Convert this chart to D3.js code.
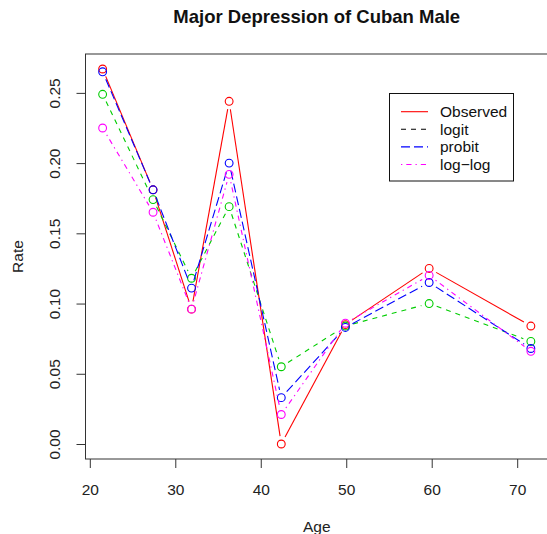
<!DOCTYPE html>
<html>
<head>
<meta charset="utf-8">
<script src="https://cdn.jsdelivr.net/npm/d3@7"></script>
<style>
	body { margin: 0; background: #fff; }
	svg { display: block; font-family: 'Liberation Sans', Arial, sans-serif; }
</style>
</head>
<body>
<div id="chart"></div>
<script>
// values
const ages = [21.5, 27.4, 31.9, 36.3, 42.4, 49.9, 59.7, 71.6];
const observed = [0.267, 0.181, 0.096, 0.244, 0.000, 0.085, 0.125, 0.084];
const logitFit = [0.249, 0.174, 0.118, 0.169, 0.055, 0.084, 0.100, 0.073];
const probitFit = [0.265, 0.181, 0.111, 0.200, 0.033, 0.083, 0.115, 0.068];
const loglogFit = [0.225, 0.165, 0.096, 0.192, 0.021, 0.086, 0.120, 0.066];
const xTicks = [20, 30, 40, 50, 60, 70];
const yTicks = [0, 0.05, 0.10, 0.15, 0.20, 0.25];
const legendLabels = ['Observed', 'logit', 'probit', 'log\u2212log'];

class RatePlot {
	constructor() {
		this.width = 547;
		this.height = 534;
		this._margins = { top: 54, left: 85.5, right: -1, bottom: 75 };
		this.gap = 8;
		this.series = [
			{ values: observed, color: '#ff0000', dash: null },
			{ values: logitFit, color: '#00cd00', dash: '5,5' },
			{ values: probitFit, color: '#0000ff', dash: '9,4' },
			{ values: loglogFit, color: '#ff00ff', dash: '1.3,4,5.2,4' }
		];
		this.legendColors = ['#ff0000', '#000000', '#0000ff', '#ff00ff'];
		this.legendDash = [null, '5,5', '9,4', '1.3,4,5.2,4'];
	}
	render() {
		let me = this;
		let svg = d3.select('#chart').append('svg')
			.attr('width', this.width)
			.attr('height', this.height);

		// R style 4% padding on both axes
		let xExt = d3.extent(ages), yExt = d3.extent(observed);
		let xPad = (xExt[1] - xExt[0]) * 0.04, yPad = (yExt[1] - yExt[0]) * 0.04;
		let left = this._margins.left, right = this.width - this._margins.right;
		let top = this._margins.top, bottom = this.height - this._margins.bottom;
		let xScale = d3.scaleLinear().domain([xExt[0] - xPad, xExt[1] + xPad]).range([left, right]);
		let yScale = d3.scaleLinear().domain([yExt[0] - yPad, yExt[1] + yPad]).range([bottom, top]);

		svg.append('text')
			.attr('x', (left + right) / 2)
			.attr('y', 23)
			.attr('text-anchor', 'middle')
			.style('font-weight', 'bold')
			.style('font-size', '18.5px')
			.style('fill', '#111')
			.text('Major Depression of Cuban Male');

		// axes
		let xAxis = d3.axisBottom(xScale).tickValues(xTicks).tickSize(9).tickFormat(d3.format('d'));
		let gX = svg.append('g')
			.attr('transform', `translate(0,${bottom})`)
			.call(xAxis);
		let yAxis = d3.axisLeft(yScale).tickValues(yTicks).tickSize(9).tickFormat(d3.format('.2f'));
		let gY = svg.append('g')
			.attr('transform', `translate(${left},0)`)
			.call(yAxis);
		[gX, gY].forEach(g => {
			g.select('.domain').remove();
			g.selectAll('line').attr('stroke', '#333');
			g.selectAll('text').style('font-size', '15.5px').style('fill', '#222').attr('font-family', null);
		});
		gX.selectAll('text').attr('y', 35.5).attr('dy', null);
		gY.selectAll('text')
			.attr('x', null).attr('dy', null)
			.attr('text-anchor', 'middle')
			.attr('transform', 'translate(-25.5,0) rotate(-90)');

		svg.append('rect')
			.attr('x', left).attr('y', top)
			.attr('width', right - left).attr('height', bottom - top)
			.attr('fill', 'none')
			.attr('stroke', '#333');

		svg.append('text')
			.attr('x', (left + right) / 2)
			.attr('y', 532)
			.attr('text-anchor', 'middle')
			.style('font-size', '15.5px')
			.style('fill', '#222')
			.text('Age');
		svg.append('text')
			.attr('transform', `translate(23,${(top + bottom) / 2}) rotate(-90)`)
			.attr('text-anchor', 'middle')
			.style('font-size', '15.5px')
			.style('fill', '#222')
			.text('Rate');

		// type = "b": segments with gaps round the points
		let body = svg.append('g').attr('class', 'body');
		this.series.forEach(s => {
			let pts = s.values.map((v, i) => [xScale(ages[i]), yScale(v)]);
			for (let i = 0; i < pts.length - 1; i += 1) {
				let [x0, y0] = pts[i], [x1, y1] = pts[i + 1];
				let len = Math.hypot(x1 - x0, y1 - y0);
				if (len <= 2 * me.gap) continue;
				let ux = (x1 - x0) / len, uy = (y1 - y0) / len;
				body.append('path')
					.attr('d', d3.line()([[x0 + ux * me.gap, y0 + uy * me.gap], [x1 - ux * me.gap, y1 - uy * me.gap]]))
					.attr('fill', 'none')
					.attr('stroke', s.color)
					.attr('stroke-width', 1.1)
					.attr('stroke-dasharray', s.dash);
			}
			body.selectAll(null)
				.data(pts)
				.enter()
				.append('circle')
				.attr('cx', d => d[0])
				.attr('cy', d => d[1])
				.attr('r', 3.9)
				.attr('fill', 'none')
				.attr('stroke', s.color)
				.attr('stroke-width', 1.1);
		});

		// legend
		let lg = svg.append('g').attr('class', 'legend');
		lg.append('rect')
			.attr('x', 389.5).attr('y', 93.5)
			.attr('width', 124).attr('height', 87.5)
			.attr('fill', '#fff')
			.attr('stroke', '#111');
		legendLabels.forEach((name, i) => {
			let cy = 111.7 + i * 17.6;
			lg.append('line')
				.attr('x1', 401).attr('x2', 428)
				.attr('y1', cy).attr('y2', cy)
				.attr('stroke', me.legendColors[i])
				.attr('stroke-width', 1.1)
				.attr('stroke-dasharray', me.legendDash[i]);
			lg.append('text')
				.attr('x', 440)
				.attr('y', cy + 5.5)
				.style('font-size', '15.5px')
				.style('fill', '#111')
				.text(name);
		});
	}
}

new RatePlot().render();
</script>
</body>
</html>
